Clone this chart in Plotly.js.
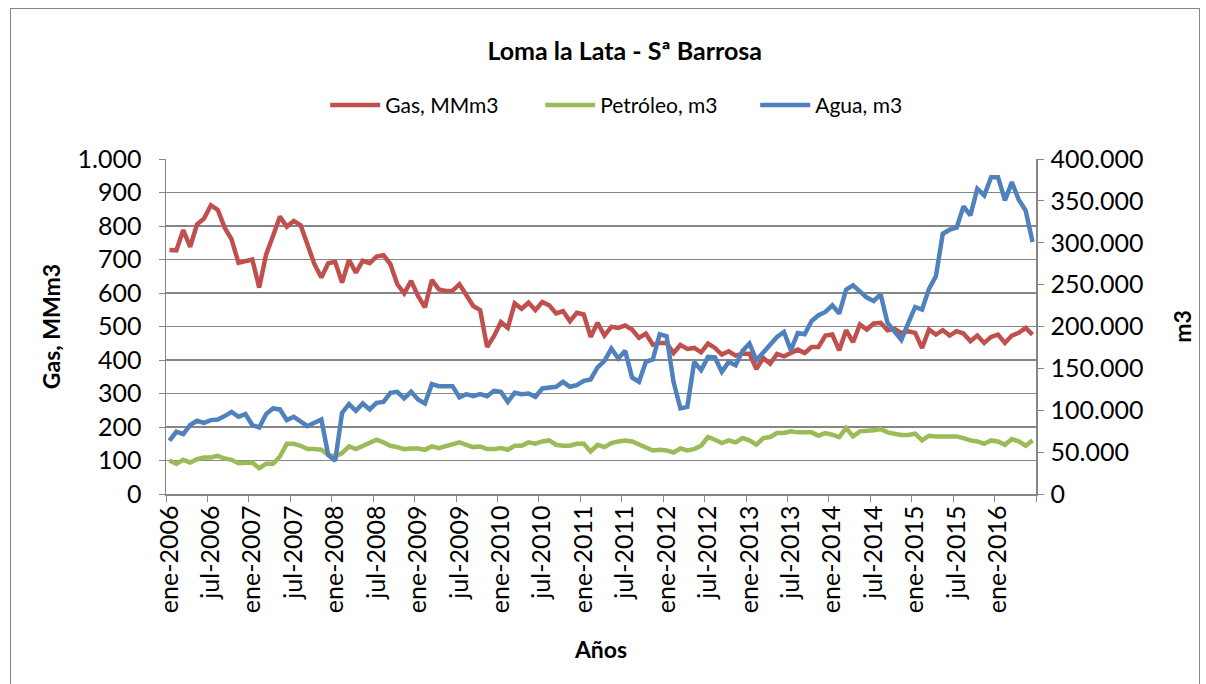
<!DOCTYPE html>
<html><head><meta charset="utf-8">
<script src="https://cdn.plot.ly/plotly-3.0.1.min.js"></script>
<style>
body{margin:0;background:#fff}
#frame{position:absolute;left:10px;top:8px;width:1190px;height:700px;border:1px solid #868686;pointer-events:none;box-sizing:border-box}
</style>
</head><body>
<div id="chart" style="position:absolute;left:0;top:0;width:1206px;height:684px"></div>
<div id="frame"></div>
<script>
// Categories: months ene-2006 .. jun-2016
const anios = [2006,2007,2008,2009,2010,2011,2012,2013,2014,2015,2016];
const mesesAbrev = ['ene','feb','mar','abr','may','jun','jul','ago','sep','oct','nov','dic'];
const nMeses = 126;

// Gas, MMm3 (left axis)
const gas = [728,727,788,738,805,822,862,848,795,760,
  690,694,700,616,715,770,828,798,815,802,
  740,686,646,689,693,631,699,661,696,689,
  709,713,686,626,599,636,591,557,639,611,
  606,607,626,596,561,549,439,471,513,496,
  569,553,571,549,573,563,539,546,516,541,
  536,469,511,473,499,496,503,491,466,479,
  446,451,451,421,445,433,436,423,449,436,
  416,426,413,419,419,373,406,389,418,411,
  421,431,421,439,439,473,476,429,489,453,
  506,491,509,511,489,493,481,486,481,436,
  491,476,489,473,486,479,456,473,451,469,
  476,451,473,481,496,476];

// Petróleo, m3 (left axis)
const petroleo = [100,90,102,94,104,109,109,114,106,102,
  92,92,94,77,90,90,112,150,150,144,
  134,134,132,117,112,122,142,134,144,154,
  162,154,144,140,134,136,136,132,142,137,
  142,150,154,147,140,142,134,134,137,132,
  144,144,154,150,157,160,147,144,144,150,
  150,127,147,140,152,157,160,157,147,137,
  130,132,130,124,136,130,134,144,170,162,
  152,160,154,167,160,147,167,170,182,182,
  187,184,184,184,174,182,177,170,197,172,
  187,187,190,194,184,180,176,176,180,160,
  174,172,172,170,172,167,160,157,150,160,
  157,147,164,157,144,160];

// Agua, m3 (right axis)
const agua = [63600,74300,71500,82300,87400,85000,88200,89000,93000,98100,
  92200,95400,82300,79500,95400,102200,101000,88200,92200,86200,
  81100,85000,89000,46500,39700,96900,107300,99300,108100,101000,
  108900,110000,120800,122000,114100,122000,112900,108100,131200,128800,
  128800,128800,115300,119200,116800,119200,116800,123200,122000,110000,
  120800,119200,120000,116000,126000,127200,128000,133900,128000,130000,
  135100,136800,151100,159000,173700,161800,170900,139100,133900,157800,
  160600,190800,188400,134000,102200,104100,157700,147800,163700,163000,
  145800,157700,153800,170900,179700,159800,169700,177700,187600,193500,
  171700,192300,190800,206600,213400,217400,225300,215500,244000,249200,
  242400,234500,230500,238500,204200,194000,184000,204000,223300,220200,
  245000,260000,310800,315600,318000,343400,332700,364500,356500,378300,
  378300,350500,372400,351400,338600,300800];

const meses = [];
for (const a of anios) for (const m of mesesAbrev) meses.push(m + '-' + a);
const categorias = meses.slice(0, nMeses);

const FONT = 'Lato, "Liberation Sans", sans-serif';
const GRID = '#868686';
const TICKFONT = {family: FONT, size: 25, color: '#000'};
const AXTITLEFONT = {family: FONT, size: 23, color: '#000'};

const traces = [
  {x: categorias, y: gas, name: 'Gas, MMm3', type: 'scatter', mode: 'lines',
   line: {color: '#C0504D', width: 4.5}, yaxis: 'y'},
  {x: categorias, y: petroleo, name: 'Petróleo, m3', type: 'scatter', mode: 'lines',
   line: {color: '#9BBB59', width: 4.5}, yaxis: 'y'},
  {x: categorias, y: agua, name: 'Agua, m3', type: 'scatter', mode: 'lines',
   line: {color: '#4F81BD', width: 4.5}, yaxis: 'y2'}
];

const layout = {
  width: 1206, height: 684,
  margin: {l: 166, r: 170, t: 159, b: 190},
  paper_bgcolor: 'rgba(0,0,0,0)', plot_bgcolor: 'rgba(0,0,0,0)',
  separators: ',.',
  font: {family: FONT, color: '#000', size: 21},
  title: {text: '<b>Loma la Lata - Sª Barrosa</b>', x: 0.518, xanchor: 'center',
          y: 1 - 51/684, yref: 'container', yanchor: 'middle',
          font: {family: FONT, size: 25, color: '#000'}},
  showlegend: true,
  legend: {orientation: 'h', x: 0.183, xanchor: 'left', y: 1.16, yanchor: 'middle',
           itemwidth: 50, entrywidth: 150, entrywidthmode: 'pixels',
           font: {family: FONT, size: 21, color: '#000'}, bgcolor: 'rgba(0,0,0,0)'},
  xaxis: {type: 'category', categoryorder: 'array', categoryarray: categorias,
          range: [-0.5, nMeses - 0.5], tickmode: 'linear', tick0: 0, dtick: 6,
          tickson: 'boundaries', ticks: 'outside', ticklen: 6, tickcolor: GRID,
          tickangle: -90, showline: true, linecolor: GRID, linewidth: 1.5,
          showgrid: false, zeroline: false, tickfont: TICKFONT,
          title: {text: '<b>Años</b>', standoff: 30, font: AXTITLEFONT}},
  yaxis: {range: [0, 1000], dtick: 100, tick0: 0, showgrid: true, gridcolor: GRID, gridwidth: 1.5,
          showline: true, linecolor: GRID, linewidth: 1.5, ticks: 'outside', ticklen: 6, tickcolor: GRID,
          zeroline: false, separatethousands: true, tickformat: ',d', ticklabelstandoff: 12,
          tickfont: TICKFONT,
          title: {text: '<b>Gas, MMm3</b>', standoff: 10, font: AXTITLEFONT}},
  yaxis2: {overlaying: 'y', side: 'right', range: [0, 400000], dtick: 50000, tick0: 0,
           showgrid: false, showline: true, linecolor: GRID, linewidth: 1.5,
           ticks: 'outside', ticklen: 6, tickcolor: GRID, zeroline: false,
           separatethousands: true, tickformat: ',d', ticklabelstandoff: 2,
           tickfont: TICKFONT,
           title: {text: '<b>m3</b>', standoff: 32, font: AXTITLEFONT}}
};

Plotly.newPlot('chart', traces, layout, {displayModeBar: false, staticPlot: true});
</script>
</body></html>
